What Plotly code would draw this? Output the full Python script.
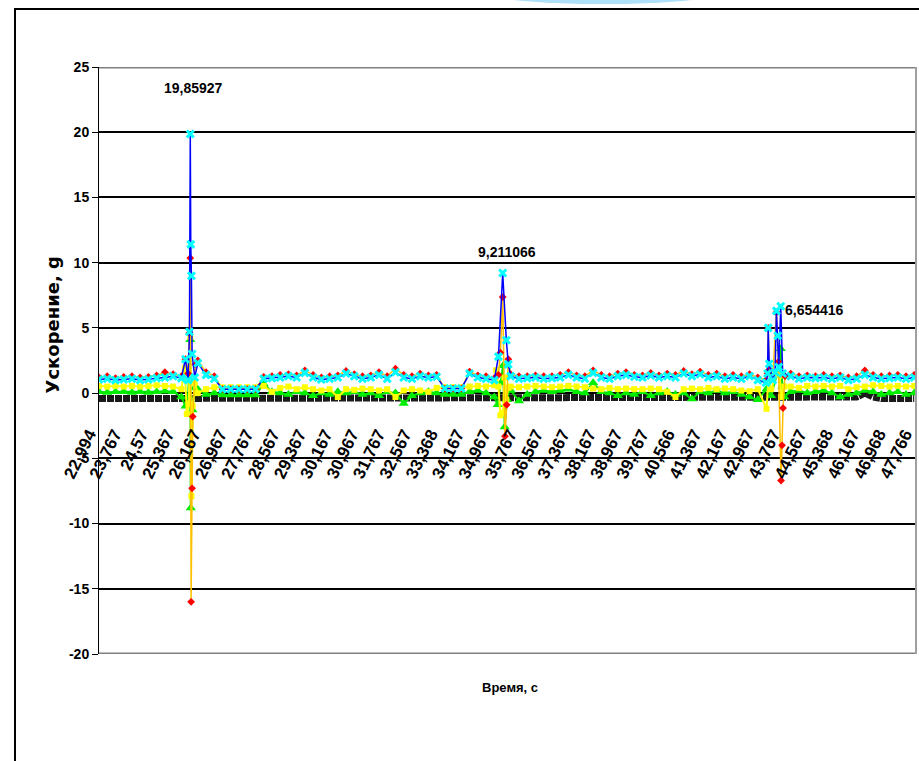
import plotly.graph_objects as go

# ---------------- data ----------------
# sample clock (s) for the base readings
T0 = 22.994
STEP = 0.25
N = 100
T = [round(T0 + STEP * k, 3) for k in range(N)]

# tick labels of the category axis
tick_labels = ["22,994", "23,767", "24,57", "25,367", "26,167", "26,967", "27,767", "28,567",
               "29,367", "30,167", "30,967", "31,767", "32,567", "33,368", "34,167", "34,967",
               "35,767", "36,567", "37,367", "38,167", "38,967", "39,767", "40,566", "41,367",
               "42,167", "42,967", "43,767", "44,567", "45,368", "46,167", "46,968", "47,766"]
tick_vals = [float(s.replace(",", ".")) for s in tick_labels]

# series A : blue line, cyan markers
a_base = [1.05, 1.1, 1.0, 1.05, 1.1, 1.0, 1.05, 1.15, 1.2, 1.3,
          1.15, None, 2.3, 1.4, 1.1, 0.3, 0.3, 0.3, 0.3, 0.3,
          1.1, 1.15, 1.2, 1.3, 1.2, 1.55, 1.2, 1.05, 1.1, 1.2,
          1.5, 1.3, 1.1, 1.2, 1.4, 1.1, 1.6, 1.2, 1.1, 1.3,
          1.2, 1.25, 0.35, 0.35, 0.35, 1.5, 1.2, 1.1, 1.0, None,
          1.3, 1.1, 1.15, 1.2, 1.1, 1.15, 1.2, 1.4, 1.2, 1.1,
          1.55, 1.2, 1.1, 1.3, 1.4, 1.25, 1.2, 1.35, 1.2, 1.3,
          1.2, 1.5, 1.3, 1.45, 1.2, 1.3, 1.1, 1.2, 1.1, 1.3,
          1.0, 0.8, None, None, 1.3, 1.1, 1.2, 1.15, 1.2, 1.1,
          1.2, 1.0, 1.1, 1.4, 1.2, 1.1, 1.15, 1.2, 1.1, 1.2]
a_evt_t = [25.62, 25.70, 25.74, 25.765, 25.78, 25.80, 25.82, 25.90,
           35.12, 35.25, 35.36, 35.42,
           43.29, 43.31, 43.34, 43.45, 43.52, 43.56, 43.60, 43.63, 43.69, 43.75]
a_evt_v = [2.6, 1.0, 4.7, 19.85927, 11.4, 9.0, 3.0, 1.2,
           2.8, 9.211066, 4.05, 2.2,
           1.5, 5.0, 2.25, 1.0, 1.6, 6.3, 4.4, 2.0, 6.654416, 1.5]

# series B : red markers, orange line
b_base = [1.2, 1.3, 1.15, 1.25, 1.3, 1.2, 1.25, 1.35, 1.6, 1.45,
          1.3, None, 2.5, 1.6, 1.3, 0.3, 0.3, 0.3, 0.3, 0.3,
          1.25, 1.3, 1.4, 1.45, 1.35, 1.74, 1.4, 1.2, 1.3, 1.35,
          1.7, 1.45, 1.3, 1.35, 1.6, 1.3, 1.87, 1.4, 1.3, 1.5,
          1.35, 1.4, 0.35, 0.35, 0.35, 1.65, 1.35, 1.3, 1.15, None,
          1.45, 1.3, 1.3, 1.35, 1.3, 1.3, 1.4, 1.6, 1.35, 1.3,
          1.74, 1.4, 1.3, 1.5, 1.6, 1.4, 1.35, 1.55, 1.35, 1.5,
          1.4, 1.7, 1.45, 1.65, 1.4, 1.5, 1.3, 1.4, 1.3, 1.45,
          1.2, 1.0, None, None, 1.5, 1.3, 1.35, 1.3, 1.4, 1.3,
          1.35, 1.2, 1.3, 1.74, 1.4, 1.3, 1.35, 1.4, 1.3, 1.4]
b_evt_t = [25.62, 25.70, 25.74, 25.765, 25.79, 25.82, 25.84, 25.92,
           35.12, 35.18, 35.25, 35.32, 35.37, 35.42,
           43.29, 43.31, 43.34, 43.45, 43.56, 43.62, 43.70, 43.73, 43.76, 43.82]
b_evt_v = [2.6, 1.5, 4.6, 10.35, -16.0, -7.3, -1.8, 2.2,
           1.4, 3.1, 7.36, -3.3, -0.9, 2.6,
           1.5, 5.0, 1.8, 1.2, 6.2, 2.4, -6.7, -4.0, -1.15, 1.3]

# series C : yellow
c_base = [0.55, 0.5, 0.55, 0.5, 0.55, 0.5, 0.55, 0.6, 0.55, 0.5,
          0.3, None, 0.0, 0.3, 0.45, 0.45, 0.45, 0.45, 0.45, 0.45,
          0.55, 0.1, 0.4, 0.5, 0.3, 0.45, 0.3, 0.2, 0.3, -0.3,
          0.3, 0.25, 0.35, 0.3, 0.2, 0.3, -0.3, 0.2, 0.3, 0.2,
          0.1, 0.4, 0.45, 0.45, 0.45, 0.5, 0.55, 0.5, 0.6, None,
          0.5, 0.45, 0.5, 0.55, 0.5, 0.45, 0.5, 0.55, 0.5, 0.45,
          0.35, 0.3, 0.4, 0.3, 0.35, 0.3, 0.3, 0.35, 0.3, 0.1,
          -0.3, 0.3, 0.35, 0.3, 0.4, 0.3, 0.35, 0.3, 0.2, 0.15,
          0.3, None, None, None, 0.5, 0.4, 0.55, 0.5, 0.55, 0.5,
          0.55, 0.3, 0.45, 0.5, 0.6, 0.55, 0.5, 0.55, 0.5, 0.55]
c_evt_t = [25.60, 25.66, 25.72, 25.765, 25.80, 25.84, 25.90,
           35.05, 35.12, 35.18, 35.26, 35.30, 35.36, 35.42,
           43.26, 43.31, 43.40, 43.56, 43.66, 43.70, 43.80]
c_evt_v = [1.9, -1.6, -0.8, 4.3, -7.9, -1.0, 0.8,
           1.75, 0.5, -1.7, -1.5, 1.2, -0.5, 0.4,
           -1.2, 0.9, 0.3, 1.4, 1.35, -0.3, 0.5]

# series D : green
d_base = [0.1, 0.05, 0.1, 0.1, 0.05, 0.1, 0.05, 0.1, 0.15, 0.1,
          -0.3, None, 0.3, -0.1, 0.0, -0.15, -0.15, -0.15, -0.15, -0.15,
          0.7, 0.1, 0.0, -0.1, 0.1, 0.0, -0.2, 0.0, -0.1, 0.1,
          0.0, 0.1, -0.1, 0.0, -0.2, 0.1, 0.0, -0.8, -0.2, 0.0,
          0.1, 0.0, -0.1, -0.1, -0.1, 0.1, 0.2, 0.0, -0.3, None,
          0.2, -0.6, -0.1, 0.1, 0.2, 0.1, 0.2, 0.3, 0.1, 0.0,
          0.8, 0.1, 0.0, -0.2, 0.0, -0.1, 0.1, -0.2, 0.0, 0.1,
          -0.1, 0.0, -0.45, 0.1, 0.0, 0.2, 0.0, 0.1, -0.1, -0.3,
          -0.5, None, None, None, 0.1, 0.2, 0.0, 0.1, 0.2, 0.0,
          -0.3, -0.1, 0.0, 0.2, 0.1, -0.1, 0.0, 0.1, -0.1, 0.0]
d_evt_t = [25.62, 25.70, 25.765, 25.78, 25.83, 25.90,
           35.10, 35.20, 35.26, 35.31, 35.38, 35.44,
           43.26, 43.40, 43.58, 43.69, 43.74, 43.80]
d_evt_v = [-1.0, -0.3, 4.1, -8.8, -1.3, 0.4,
           -0.9, 0.8, 2.1, -2.6, -0.5, 0.2,
           0.3, -0.2, 1.5, 3.4, 0.5, -0.3]

# series E : black baseline
e_base = [-0.42] * 92 + [-0.3, 0.0, -0.3, -0.42, -0.42, -0.42, -0.42, -0.42]

# annotations (peak values)
peak_labels = ["19,85927", "9,211066", "6,654416"]
peak_lab_t = [25.85, 35.38, 44.72]
peak_lab_v = [23.4, 10.8, 6.36]

y_ticks = [-20, -15, -10, -5, 0, 5, 10, 15, 20, 25]


def merge(base, ev_t, ev_v):
    pts = [(t, v) for t, v in zip(T, base) if v is not None]
    pts += list(zip(ev_t, ev_v))
    pts.sort(key=lambda p: p[0])
    return [p[0] for p in pts], [p[1] for p in pts]


FONT = "Liberation Sans, Arial, sans-serif"
W, H = 919, 761
L, R, TOP, BOT = 99, 3, 67, 107
PW, PH = W - L - R, H - TOP - BOT


def px(xp):
    return (xp - L) / PW


def py(yp):
    return (H - BOT - yp) / PH


fig = go.Figure()

fig.add_trace(go.Scatter(x=T, y=e_base, mode="lines",
                         line=dict(color="#1a1a1a", width=7, dash="7px,1px"),
                         hoverinfo="skip"))

xd, yd = merge(d_base, d_evt_t, d_evt_v)
fig.add_trace(go.Scatter(x=xd, y=yd, mode="lines+markers",
                         line=dict(color="#00dd00", width=2),
                         marker=dict(symbol="triangle-up", size=9, color="#00ee00")))

xc, yc = merge(c_base, c_evt_t, c_evt_v)
fig.add_trace(go.Scatter(x=xc, y=yc, mode="lines+markers",
                         line=dict(color="#ffff00", width=2),
                         marker=dict(symbol="square", size=6, color="#ffff00")))

xb, yb = merge(b_base, b_evt_t, b_evt_v)
fig.add_trace(go.Scatter(x=xb, y=yb, mode="lines+markers",
                         line=dict(color="#ffc000", width=1.5),
                         marker=dict(symbol="diamond", size=6, color="#ff0000")))

xa, ya = merge(a_base, a_evt_t, a_evt_v)
fig.add_trace(go.Scatter(x=xa, y=ya, mode="lines+markers",
                         line=dict(color="#0000ff", width=1.5),
                         marker=dict(symbol="x-thin", size=7, color="#00ffff",
                                     line=dict(color="#00ffff", width=3))))

for s, t, v in zip(peak_labels, peak_lab_t, peak_lab_v):
    fig.add_annotation(x=t, y=v, xref="x", yref="y", text="<b>%s</b>" % s,
                       showarrow=False, font=dict(family=FONT, size=14, color="black"))

fig.add_annotation(x=px(39), y=py(325), xref="paper", yref="paper",
                   text="<b>Ускорение, g</b>", textangle=-90, showarrow=False,
                   font=dict(family="DejaVu Sans, Verdana, sans-serif", size=18, color="black"))
fig.add_annotation(x=px(510), y=py(697), xref="paper", yref="paper",
                   text="<b>Время, с</b>", showarrow=False,
                   font=dict(family=FONT, size=13, color="black"))

# frame elements
fig.add_shape(type="line", xref="paper", yref="y", x0=0, x1=1, y0=25, y1=25,
              line=dict(color="#808080", width=3))
fig.add_shape(type="line", xref="paper", yref="y", x0=0, x1=1, y0=-20, y1=-20,
              line=dict(color="#808080", width=3))
fig.add_shape(type="line", xref="paper", yref="paper", x0=1, x1=1, y0=0, y1=1,
              line=dict(color="#a0a0a0", width=2))
fig.add_shape(type="rect", xref="paper", yref="paper",
              x0=px(15), x1=px(935), y0=py(780), y1=py(9),
              line=dict(color="black", width=2), layer="below")
fig.add_shape(type="circle", xref="paper", yref="paper",
              x0=px(603 - 216), x1=px(603 + 216), y0=py(4), y1=py(-84),
              line=dict(width=0), fillcolor="#aee0fa")

fig.update_layout(
    width=W, height=H, autosize=False,
    margin=dict(l=L, r=R, t=TOP, b=BOT),
    paper_bgcolor="white", plot_bgcolor="white",
    showlegend=False,
    xaxis=dict(range=[22.994, 47.797], showgrid=False, zeroline=False,
               tickmode="array", tickvals=tick_vals, ticktext=tick_labels,
               tickangle=-64, ticks="", showline=False,
               anchor="free", position=py(420),
               ticklabelshift=-10, ticklabeloverflow="allow",
               tickfont=dict(family=FONT, size=17, color="black", weight="bold")),
    yaxis=dict(range=[-20, 25], tickmode="array", tickvals=y_ticks,
               ticktext=[str(v) for v in y_ticks],
               showgrid=True, gridcolor="black", gridwidth=1.5, zeroline=False,
               showline=True, linecolor="black", linewidth=1,
               ticks="outside", ticklen=6, tickcolor="black",
               tickfont=dict(family=FONT, size=14, color="black", weight="bold")),
)

fig.write_html("out.html", config={"displayModeBar": False},
               post_script="document.body.style.margin='0px';")
